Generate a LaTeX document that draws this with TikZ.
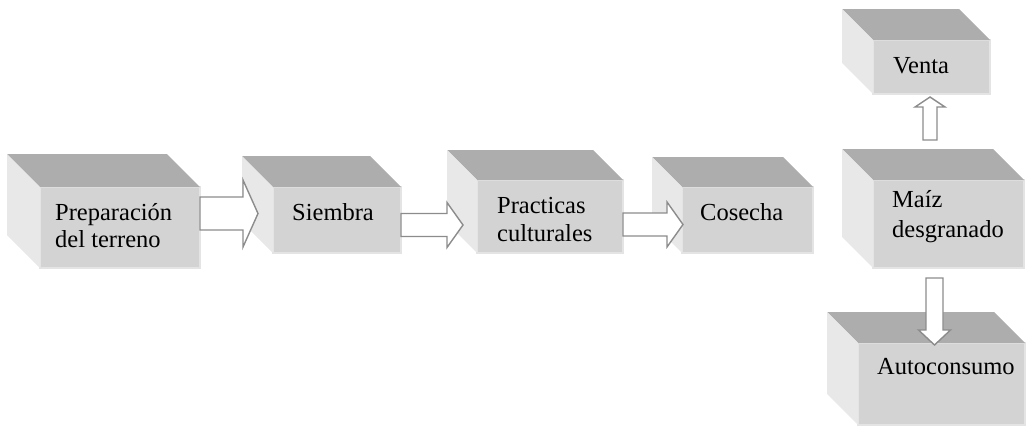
\documentclass[tikz,border=0pt]{standalone}
\usepackage{fontspec}
\setmainfont{Liberation Serif}
\usetikzlibrary{calc}
\definecolor{topc}{HTML}{ADADAD}
\definecolor{leftc}{HTML}{E8E8E8}
\definecolor{frontc}{HTML}{D3D3D3}
\definecolor{frontedge}{HTML}{E4E4E4}
\definecolor{arrowc}{HTML}{8C8C8C}
\tikzset{
  frontface/.style={fill=frontc, draw=frontedge, line width=1.2pt, inner sep=0pt, outer sep=0pt, anchor=north west},
  topface/.style={fill=topc},
  leftface/.style={fill=leftc},
  lbl/.style={anchor=base west, inner sep=0pt, font=\fontsize{24.5pt}{28pt}\selectfont, text=black},
  blockarrow/.style={fill=white, draw=arrowc, line width=1.4pt, line join=miter}
}
% #1 name, #2 x1, #3 y1, #4 x2, #5 y2, #6 depth
\newcommand\cubebox[6]{%
  \node[frontface, minimum width={(#4-#2)*1pt}, minimum height={(#5-#3)*1pt}] (#1) at (#2,#3) {};
  \fill[topface] (#1.north west) -- ([shift={(-#6,-#6)}]#1.north west) -- ([shift={(-#6,-#6)}]#1.north east) -- (#1.north east) -- cycle;
  \fill[leftface] (#1.north west) -- ([shift={(-#6,-#6)}]#1.north west) -- ([shift={(-#6,-#6)}]#1.south west) -- (#1.south west) -- cycle;
}
% horizontal block arrow: #1 x0, #2 xhead, #3 xtip, #4 ymid, #5 shaft half, #6 head half
\newcommand\harrow[6]{%
  \draw[blockarrow] (#1,#4-#5) -- (#2,#4-#5) -- (#2,#4-#6) -- (#3,#4) -- (#2,#4+#6) -- (#2,#4+#5) -- (#1,#4+#5) -- cycle;
}
% vertical block arrow: #1 y0, #2 yhead, #3 ytip, #4 xmid, #5 shaft half, #6 head half
\newcommand\varrow[6]{%
  \draw[blockarrow] (#4-#5,#1) -- (#4-#5,#2) -- (#4-#6,#2) -- (#4,#3) -- (#4+#6,#2) -- (#4+#5,#2) -- (#4+#5,#1) -- cycle;
}
\begin{document}
\begin{tikzpicture}[x=1pt, y=-1pt]
\useasboundingbox (0,0) rectangle (1027,426);
\cubebox{prep}{40}{187}{200}{268}{33}
\cubebox{siem}{273}{187}{401}{253}{31}
\cubebox{prac}{477}{180}{623}{253}{30}
\cubebox{cose}{682}{187}{813}{253}{30}
\cubebox{vent}{873}{40}{990}{94}{31}
\cubebox{maiz}{873}{180}{1024}{268}{31}
\cubebox{auto}{858}{343}{1025}{425}{31}
% texts
\node[lbl] (t1a) at (55,220) {Preparación};
\node[lbl] (t1b) at (55,247) {del terreno};
\node[lbl] (t2) at (292,220) {Siembra};
\node[lbl] (t3a) at (497,213) {Practicas};
\node[lbl] (t3b) at (497,241) {culturales};
\node[lbl] (t4) at (700,220) {Cosecha};
\node[lbl] (t5) at (893,73) {Venta};
\node[lbl] (t6a) at (892,207) {Maíz};
\node[lbl] (t6b) at (892,237) {desgranado};
\node[lbl] (t7) at (877,374) {Autoconsumo};
% arrows
\harrow{200}{243}{258}{213.5}{16.5}{33.5}
\harrow{401}{447}{463}{225}{11.5}{22.5}
\harrow{623}{667}{683}{224.5}{11.5}{22.5}
\varrow{140}{107}{97}{930}{7}{15}
\varrow{278}{330}{345}{934.5}{8.5}{16}
\end{tikzpicture}
\end{document}
